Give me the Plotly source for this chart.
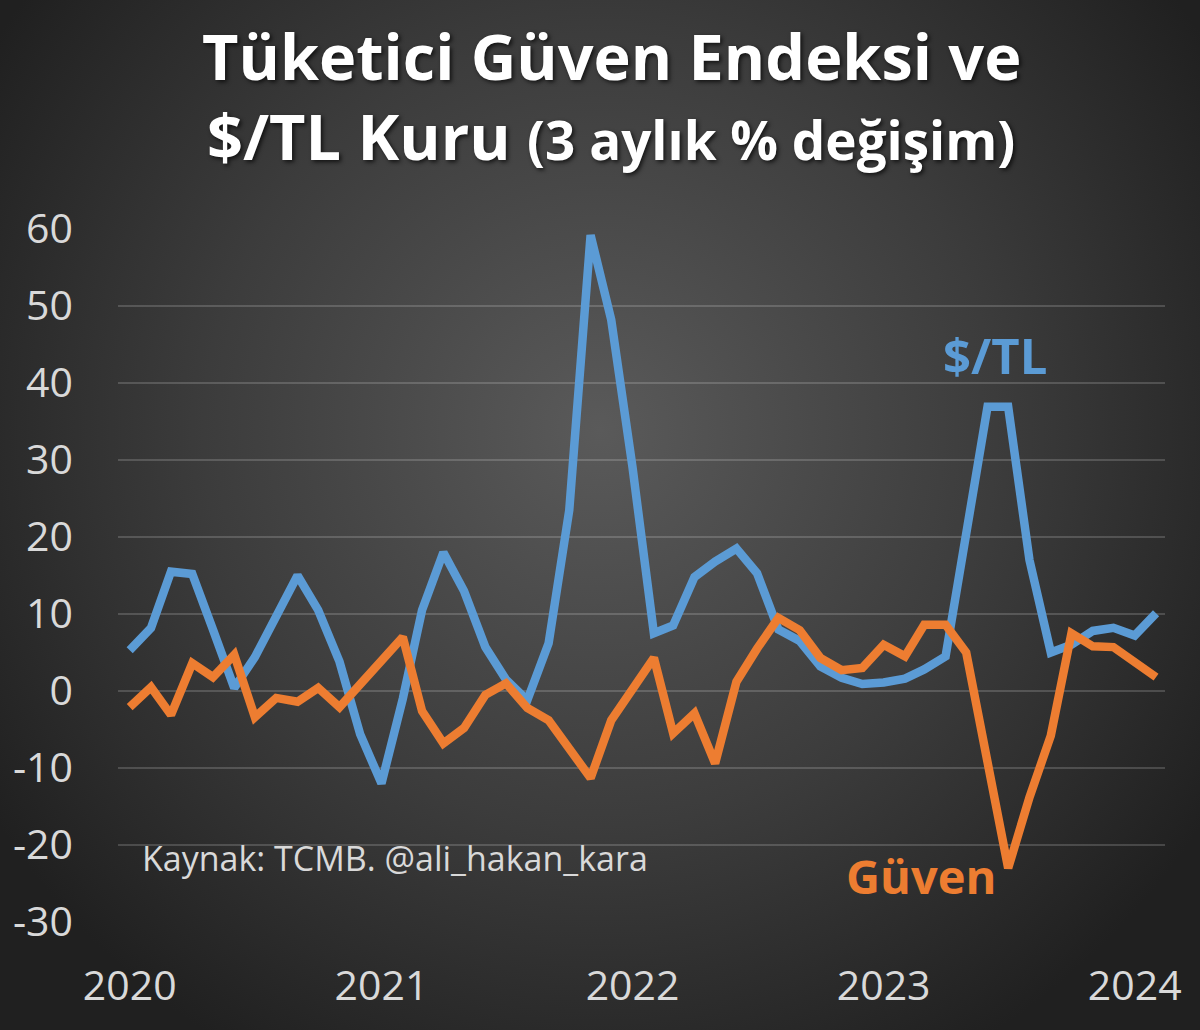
import base64
import pandas as pd
import plotly.graph_objects as go

# monthly, Jan 2020 - Feb 2024, 3-month % change
months = pd.date_range("2020-01-01", periods=50, freq="MS")

usd_tl = [
    5.3, 8.2, 15.5, 15.2, 8.0, 0.4, 4.4, 9.8, 15.0, 10.5, 3.8, -5.6,      # 2020
    -12.0, -1.0, 10.5, 18.0, 13.0, 5.7, 1.5, -1.2, 6.2, 23.5, 59.2, 48.2,  # 2021
    29.0, 7.5, 8.5, 14.8, 16.8, 18.5, 15.3, 8.0, 6.5, 3.2, 1.7, 0.9,       # 2022
    1.1, 1.6, 2.8, 4.5, 21.0, 36.9, 36.9, 17.0, 5.0, 6.0, 7.8, 8.2,        # 2023
    7.2, 10.1,                                                              # 2024
]

guven = [
    -2.1, 0.5, -3.1, 3.6, 1.8, 4.7, -3.4, -0.9, -1.4, 0.4, -2.1, 0.9,
    3.9, 7.0, -2.6, -6.8, -4.8, -0.5, 1.0, -2.2, -3.8, -7.7, -11.3, -3.8,
    0.5, 4.3, -5.5, -2.9, -9.4, 1.2, 5.5, 9.5, 7.9, 4.3, 2.7, 3.0,
    6.0, 4.5, 8.6, 8.6, 5.0, -10.0, -23.0, -13.8, -5.8, 7.5, 5.8, 5.7,
    3.8, 1.8,
]

year_ticks = ["2020-01-01", "2021-01-01", "2022-01-01", "2023-01-01", "2024-01-01"]
year_labels = ["2020", "2021", "2022", "2023", "2024"]
y_ticks = [-30, -20, -10, 0, 10, 20, 30, 40, 50, 60]
y_labels = ["-30", "-20", "-10", "0", "10", "20", "30", "40", "50", "60"]

BLUE = "#5b9bd5"
ORANGE = "#ed7d31"
FONT = "Open Sans"

# dark radial background, as an svg image behind everything
W, H = 1200, 1030
L, R, T, B = 118, 35, 229, 108
pw, ph = W - L - R, H - T - B
svg = f"""<svg xmlns='http://www.w3.org/2000/svg' width='{W}' height='{H}'>
<defs><radialGradient id='g' gradientUnits='userSpaceOnUse' cx='600' cy='430' r='720'>
<stop offset='0' stop-color='#5a5a5a'/><stop offset='0.55' stop-color='#3c3c3c'/>
<stop offset='1' stop-color='#202020'/></radialGradient></defs>
<rect width='{W}' height='{H}' fill='url(#g)'/></svg>"""
bg_src = "data:image/svg+xml;base64," + base64.b64encode(svg.encode()).decode()


def px(xp, yp):
    # page pixel -> paper coords
    return (xp - L) / pw, (H - B - yp) / ph


fig = go.Figure()
fig.add_trace(go.Scatter(x=months, y=usd_tl, mode="lines", name="$/TL",
                         line=dict(color=BLUE, width=8.5)))
fig.add_trace(go.Scatter(x=months, y=guven, mode="lines", name="Güven",
                         line=dict(color=ORANGE, width=8.5)))

fig.update_layout(
    width=W, height=H,
    margin=dict(l=L, r=R, t=T, b=B),
    paper_bgcolor="#333333",
    plot_bgcolor="rgba(0,0,0,0)",
    showlegend=False,
    hovermode=False,
    font=dict(family=FONT, color="#d9d9d9"),
    images=[dict(source=bg_src, xref="paper", yref="paper",
                 x=-L / pw, y=1 + T / ph, sizex=W / pw, sizey=H / ph,
                 xanchor="left", yanchor="top", sizing="stretch", layer="below")],
)

fig.update_xaxes(
    range=["2019-12-15", "2024-02-14"],
    tickvals=year_ticks, ticktext=year_labels,
    showgrid=False, zeroline=False, showline=False,
    tickfont=dict(size=41, color="#d9d9d9"),
    ticklabelstandoff=36,
)
fig.update_yaxes(
    range=[-30, 60], tickvals=y_ticks, ticktext=y_labels,
    gridcolor="rgba(255,255,255,0.17)", gridwidth=1.5,
    zeroline=False, showline=False,
    tickfont=dict(size=41, color="#d9d9d9"),
    ticklabelstandoff=44,
)

title_font = dict(family=FONT, size=63, color="#ffffff", weight="bold",
                  shadow="2px 2px 4px rgba(0,0,0,0.7)")
x, y = px(611, 55)
fig.add_annotation(text="Tüketici Güven Endeksi ve", xref="paper", yref="paper",
                   x=x, y=y, xanchor="center", yanchor="middle", showarrow=False,
                   font=title_font)
x, y = px(611, 135)
fig.add_annotation(text="$/TL Kuru <span style='font-size:53px'>(3 aylık % değişim)</span>",
                   xref="paper", yref="paper", x=x, y=y, xanchor="center",
                   yanchor="middle", showarrow=False, font=title_font)

x, y = px(995, 355)
fig.add_annotation(text="<b>$/TL</b>", xref="paper", yref="paper", x=x, y=y,
                   xanchor="center", yanchor="middle", showarrow=False,
                   font=dict(size=49, color=BLUE, family=FONT))
x, y = px(921, 876)
fig.add_annotation(text="<b>Güven</b>", xref="paper", yref="paper", x=x, y=y,
                   xanchor="center", yanchor="middle", showarrow=False,
                   font=dict(size=47, color=ORANGE, family=FONT))
x, y = px(140, 858)
fig.add_annotation(text="Kaynak: TCMB. @ali_hakan_kara", xref="paper", yref="paper",
                   x=x, y=y, xanchor="left", yanchor="middle", showarrow=False,
                   font=dict(size=34, color="#d9d9d9", family=FONT))

fig.write_html("out.html", config={"displayModeBar": False},
               post_script="document.body.style.margin='0';")
